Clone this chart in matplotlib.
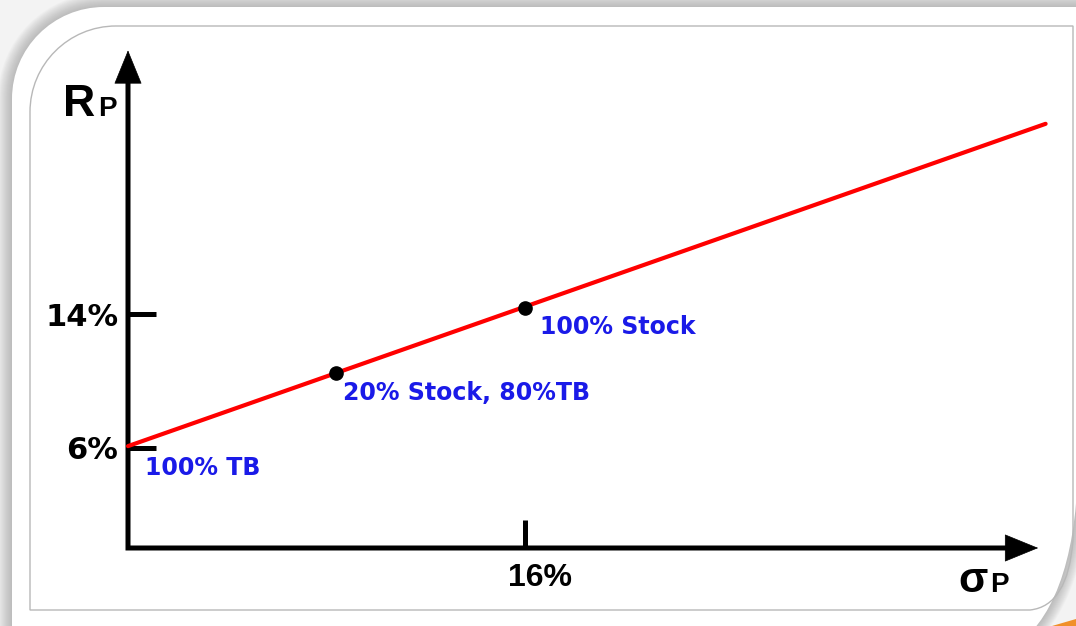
import matplotlib
matplotlib.use('Agg')
import matplotlib.pyplot as plt
from matplotlib.patches import PathPatch, Polygon
from matplotlib.path import Path
from matplotlib.transforms import ScaledTranslation

plt.rcParams['font.family'] = ['Liberation Sans', 'DejaVu Sans']

# capital allocation line, risk (sigma, %) vs expected return (%)
cal_sigma = [0.0, 37.0]
cal_return = [6.1, 25.4]

# portfolios along the line
port_sigma = [0.0, 8.4, 16.0]
port_return = [6.1, 10.5, 14.4]
port_labels = ['100% TB', '20% Stock, 80%TB', '100% Stock']
port_marked = [False, True, True]

y_ticks = [6, 14]
y_tick_labels = ['6%', '14%']
x_ticks = [16]
x_tick_labels = ['16%']

W, H = 1076, 626
BLUE = '#1a1ae8'
K = 0.5523  # bezier circle constant


def card_path(off=0.0):
    """White slide card, rounded top-left and bottom-right."""
    r = 92 + off
    x0, y0 = 12 - off, 7 - off
    xr = 1078 + off
    verts = [
        (x0, 700), (x0, y0 + r),
        (x0, y0 + r - K * r), (x0 + r - K * r, y0), (x0 + r, y0),
        (1200, y0), (1200, -50), (xr, -50), (xr, 470),
        (xr - 4, 610 + off * 0.3), (1010 + off * 0.2, 650 + off),
        (-50, 650 + off), (-50, 700), (x0, 700),
    ]
    codes = [Path.MOVETO, Path.LINETO,
             Path.CURVE4, Path.CURVE4, Path.CURVE4,
             Path.LINETO, Path.LINETO, Path.LINETO, Path.LINETO,
             Path.CURVE3, Path.CURVE3,
             Path.LINETO, Path.LINETO, Path.CLOSEPOLY]
    return Path(verts, codes)


def frame_path():
    r = 86
    verts = [
        (30, 610), (30, 26 + r),
        (30, 26 + r - K * r), (30 + r - K * r, 26), (30 + r, 26),
        (1073, 26), (1073, 540),
        (1068, 606), (1030, 610),
        (30, 610),
    ]
    codes = [Path.MOVETO, Path.LINETO,
             Path.CURVE4, Path.CURVE4, Path.CURVE4,
             Path.LINETO, Path.LINETO,
             Path.CURVE3, Path.CURVE3,
             Path.CLOSEPOLY]
    return Path(verts, codes)


fig = plt.figure(figsize=(W / 100, H / 100), dpi=100)
fig.patch.set_facecolor('#f3f3f3')

# background layer in pixel coordinates
bg = fig.add_axes([0, 0, 1, 1])
bg.set_xlim(0, W)
bg.set_ylim(H, 0)
bg.axis('off')

for off in range(14, 0, -1):
    bg.add_patch(PathPatch(card_path(off), facecolor='#8a8a8a',
                           edgecolor='none', alpha=0.045))
bg.add_patch(Polygon([(1052, 626), (1076, 619), (1076, 626)],
                     closed=True, facecolor='#f0902a', edgecolor='none'))
bg.add_patch(PathPatch(card_path(0), facecolor='white', edgecolor='none'))
bg.add_patch(PathPatch(frame_path(), facecolor='none',
                       edgecolor='#b8b8b8', lw=1.0))

# chart axes: origin at pixel (128, 548)
px_x, px_y = 24.8, 16.7
ax = fig.add_axes([128 / W, (H - 548) / H, 38 * px_x / W, 30 * px_y / H])
ax.set_xlim(0, 38)
ax.set_ylim(0, 30)
ax.patch.set_visible(False)
for s in ax.spines.values():
    s.set_visible(False)

ax.set_yticks(y_ticks, y_tick_labels)
ax.set_xticks(x_ticks, x_tick_labels)
ax.tick_params(axis='y', direction='in', length=20, width=3.6, pad=7,
               colors='black')
ax.tick_params(axis='x', direction='in', length=20, width=3.6, pad=11,
               colors='black')
for lab in ax.get_yticklabels():
    lab.set_fontfamily('DejaVu Sans')
    lab.set_fontsize(22)
    lab.set_fontweight('bold')
for lab in ax.get_xticklabels():
    lab.set_fontsize(23)
    lab.set_fontweight('bold')
    lab.set_transform(lab.get_transform() +
                      ScaledTranslation(0.15, 0, fig.dpi_scale_trans))

# both axes as one polyline running into the arrowheads
axis_line, = ax.plot([0, 0, 35.5], [28.0, 0, 0], color='black', lw=3.6,
                     solid_joinstyle='miter', solid_capstyle='butt',
                     clip_on=False)
axis_line.set_snap(False)
arrow = dict(arrowstyle='-|>,head_length=1.15,head_width=0.47',
             mutation_scale=20, lw=0.5, color='black',
             shrinkA=0, shrinkB=0)
for tip, tail in [((36.7, 0), (35.35, 0)), ((0, 29.8), (0, 27.85))]:
    head = ax.annotate('', xy=tip, xytext=tail, arrowprops=arrow,
                       annotation_clip=False)
    head.arrow_patch.set_snap(False)

ax.plot(cal_sigma, cal_return, color='#ff0000', lw=3,
        solid_capstyle='round', clip_on=False, zorder=3)

dot_s = [s for s, m in zip(port_sigma, port_marked) if m]
dot_r = [r for r, m in zip(port_return, port_marked) if m]
ax.plot(dot_s, dot_r, 'o', color='black', ms=9.5, zorder=4, clip_on=False)

offsets = [(12, -15.8), (5, -14.4), (10.8, -13.7)]
for s, r, lab, off in zip(port_sigma, port_return, port_labels, offsets):
    ax.annotate(lab, xy=(s, r), xytext=off, textcoords='offset points',
                ha='left', va='center', fontsize=17, fontweight='bold',
                family='DejaVu Sans', color=BLUE, annotation_clip=False)

# axis names
ax.text(-2.62, 25.87, 'R', fontsize=32, fontweight='bold', va='baseline',
        ha='left', clip_on=False)
ax.text(-1.21, 25.87, 'P', fontsize=20, fontweight='bold', va='baseline',
        ha='left', clip_on=False)
ax.text(33.47, -2.63, 'σ', fontsize=31, fontweight='bold', va='baseline',
        ha='left', clip_on=False)
ax.text(34.76, -2.63, 'P', fontsize=20, fontweight='bold', va='baseline',
        ha='left', clip_on=False)

fig.savefig('out.png', dpi=100)
